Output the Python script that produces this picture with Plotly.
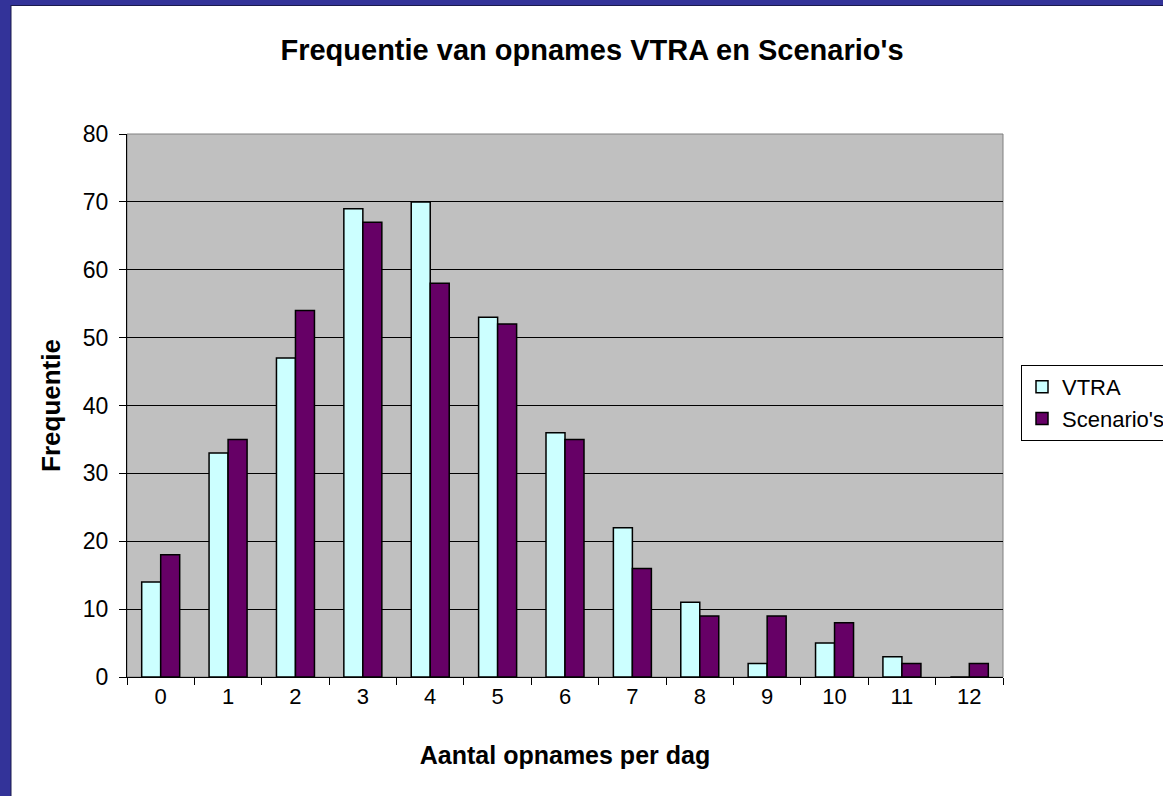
import plotly.graph_objects as go

categories = ["0", "1", "2", "3", "4", "5", "6", "7", "8", "9", "10", "11", "12"]
vtra = [14, 33, 47, 69, 70, 53, 36, 22, 11, 2, 5, 3, 0]
scenarios = [18, 35, 54, 67, 58, 52, 35, 16, 9, 9, 8, 2, 2]

W, H = 1163, 796
L, R, T, B = 127, 1003, 134, 677
pw, ph = R - L, B - T

def px(x):
    return (x - L) / pw

def py(y):
    return (B - y) / ph

font = "Liberation Sans, Arial, sans-serif"

fig = go.Figure()
fig.add_trace(go.Bar(x=categories, y=vtra, name="VTRA",
                     marker=dict(color="#CCFFFF", line=dict(color="black", width=1.5))))
fig.add_trace(go.Bar(x=categories, y=scenarios, name="Scenario's",
                     marker=dict(color="#660066", line=dict(color="black", width=1.5))))

fig.update_layout(
    width=W, height=H,
    margin=dict(l=L, r=W - R, t=T, b=H - B, autoexpand=False),
    paper_bgcolor="white",
    plot_bgcolor="#C0C0C0",
    barmode="group", bargap=0.436, bargroupgap=0,
    font=dict(family=font, color="black", size=22),
    title=dict(text="<b>Frequentie van opnames VTRA en Scenario's</b>",
               x=px(592), xref="paper", xanchor="center",
               y=1 - 50 / H, yanchor="middle", font=dict(size=29)),
    xaxis=dict(showgrid=False, showline=True, linecolor="black", linewidth=1,
               ticks="outside", tickson="boundaries", ticklen=7, tickcolor="black",
               tickfont=dict(size=22),
               title=dict(text="<b>Aantal opnames per dag</b>", font=dict(size=25), standoff=38)),
    yaxis=dict(range=[0, 80], dtick=10, showgrid=True, gridcolor="black", gridwidth=1,
               showline=True, linecolor="black", linewidth=1, zeroline=False,
               ticks="outside", ticklen=7, tickcolor="black", ticklabelstandoff=6,
               tickfont=dict(size=23),
               title=dict(text="<b>Frequentie</b>", font=dict(size=26), standoff=14)),
    legend=dict(x=px(1021), y=py(365), xanchor="left", yanchor="top",
                bgcolor="white", bordercolor="black", borderwidth=1,
                font=dict(size=22)),
    shapes=[
        dict(type="rect", xref="paper", yref="paper", x0=0, x1=1, y0=0, y1=1,
             line=dict(color="#808080", width=1), layer="below"),
        dict(type="rect", xref="paper", yref="paper", x0=px(0), x1=px(11), y0=py(0), y1=py(H),
             fillcolor="#333399", line=dict(width=0), layer="above"),
        dict(type="rect", xref="paper", yref="paper", x0=px(0), x1=px(W), y0=py(0), y1=py(5),
             fillcolor="#333399", line=dict(width=0), layer="above"),
        dict(type="line", xref="paper", yref="paper", x0=px(11), x1=px(11), y0=py(5), y1=py(H),
             line=dict(color="#1a1a4d", width=1), layer="above"),
        dict(type="line", xref="paper", yref="paper", x0=px(11), x1=px(W), y0=py(5.5), y1=py(5.5),
             line=dict(color="#1a1a4d", width=1), layer="above"),
    ],
)

fig.write_html("out.html", config={"displayModeBar": False},
               post_script="document.body.style.margin='0';document.body.style.overflow='hidden';")
